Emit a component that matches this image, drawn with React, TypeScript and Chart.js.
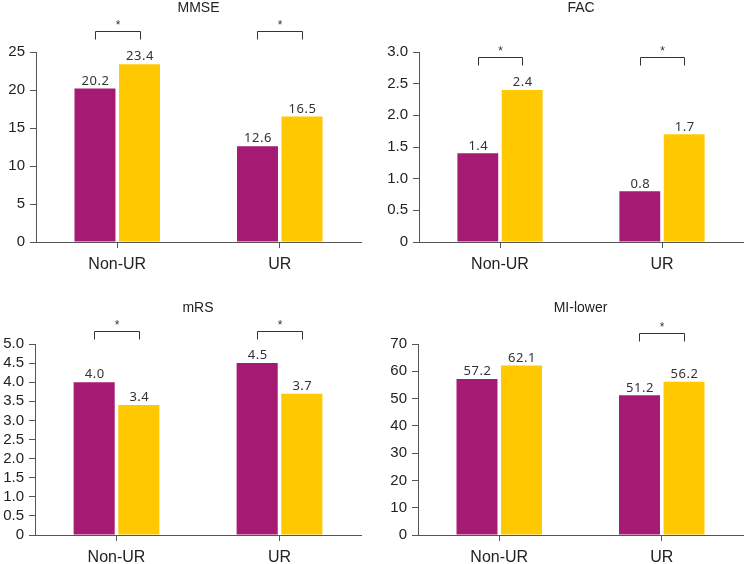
import React, { useEffect, useRef } from "react";
import { Chart, registerables } from "chart.js";

Chart.register(...registerables);

const categories = ["Non-UR", "UR"];

const titles = ["MMSE", "FAC", "mRS", "MI-lower"];

const groupA = [
  [20.2, 12.6],
  [1.4, 0.8],
  [4.0, 4.5],
  [57.2, 51.2],
];
const groupB = [
  [23.4, 16.5],
  [2.4, 1.7],
  [3.4, 3.7],
  [62.1, 56.2],
];

const yMax = [25, 3, 5, 70];
const yStep = [5, 0.5, 0.5, 10];
const yDecimals = [0, 1, 1, 0];

// significance brackets: which categories are marked, and bracket level (value units)
const sigFlags = [
  [true, true],
  [true, true],
  [true, true],
  [false, true],
];
const sigLevel = [27.8, 2.92, 5.34, 74.0];

const PURPLE = "#A51A72";
const YELLOW = "#FFC800";
const AXIS = "#555555";

// panel layout: canvas box and chart area target (in panel coords)
const panels = [
  { left: 0, top: 0, w: 372, h: 282, caL: 36, caR: 361, caT: 52, caB: 242, titleTop: 1 },
  { left: 372, top: 0, w: 373, h: 282, caL: 47, caR: 371, caT: 52, caB: 242, titleTop: 1 },
  { left: 0, top: 282, w: 372, h: 282, caL: 35, caR: 361, caT: 62, caB: 253, titleTop: 19 },
  { left: 372, top: 282, w: 373, h: 282, caL: 46, caR: 371, caT: 62, caB: 253, titleTop: 19 },
];

const annotPlugin = {
  id: "annot",
  afterDraw(chart: any, _args: any, opts: any) {
    const ctx = chart.ctx;
    const yScale = chart.scales.y;
    const metaA = chart.getDatasetMeta(0);
    const metaB = chart.getDatasetMeta(1);
    ctx.save();
    // value labels
    ctx.fillStyle = "#333333";
    ctx.font = "13px 'Noto Sans'";
    (ctx as any).letterSpacing = "0.5px";
    ctx.textAlign = "center";
    ctx.textBaseline = "bottom";
    [metaA, metaB].forEach((meta: any, di: number) => {
      const ds = chart.data.datasets[di].data;
      meta.data.forEach((bar: any, i: number) => {
        const v = ds[i] as number;
        ctx.fillText(v.toFixed(1), bar.x + 0.5, bar.y - 1);
      });
    });
    (ctx as any).letterSpacing = "0px";
    // brackets
    const flags: boolean[] = opts.flags;
    const yLev = yScale.getPixelForValue(opts.level);
    ctx.strokeStyle = "#333333";
    ctx.lineWidth = 1;
    ctx.font = "12px 'Liberation Sans'";
    ctx.textBaseline = "middle";
    flags.forEach((f, i) => {
      if (!f) return;
      const x1 = Math.round(metaA.data[i].x) + 0.5;
      const x2 = Math.round(metaB.data[i].x) + 0.5;
      const y = Math.round(yLev) + 0.5;
      ctx.beginPath();
      ctx.moveTo(x1, y + 8);
      ctx.lineTo(x1, y);
      ctx.lineTo(x2, y);
      ctx.lineTo(x2, y + 8);
      ctx.stroke();
      ctx.fillText("*", (x1 + x2) / 2, y - 6);
    });
    ctx.restore();
  },
};

function Panel({ idx }: { idx: number }) {
  const ref = useRef<HTMLCanvasElement | null>(null);
  const p = panels[idx];
  useEffect(() => {
    if (!ref.current) return;
    const decimals = yDecimals[idx];
    const chart = new Chart(ref.current, {
      type: "bar",
      data: {
        labels: categories,
        datasets: [
          {
            label: "A",
            data: groupA[idx],
            backgroundColor: PURPLE,
            categoryPercentage: 0.548,
            barPercentage: 0.92,
          },
          {
            label: "B",
            data: groupB[idx],
            backgroundColor: YELLOW,
            categoryPercentage: 0.548,
            barPercentage: 0.92,
          },
        ],
      },
      plugins: [annotPlugin],
      options: {
        responsive: false,
        animation: false,
        devicePixelRatio: 1,
        layout: { padding: { left: 0, right: p.w - p.caR, top: 0, bottom: 0 } },
        plugins: {
          legend: { display: false },
          tooltip: { enabled: false },
          title: {
            display: true,
            text: titles[idx],
            fullSize: false,
            color: "#222222",
            font: { family: "'Liberation Sans'", size: 14, weight: "normal", lineHeight: 1 },
            padding: { top: p.titleTop, bottom: p.caT - 14 - p.titleTop },
          },
          annot: { flags: sigFlags[idx], level: sigLevel[idx] },
        } as any,
        scales: {
          x: {
            grid: {
              display: true,
              drawOnChartArea: false,
              drawTicks: true,
              tickLength: 6,
              offset: false,
              color: AXIS,
            },
            border: { display: true, color: AXIS, width: 1 },
            ticks: {
              color: "#222222",
              font: { family: "'Liberation Sans'", size: 16 },
              padding: 7,
            },
            afterFit: (scale: any) => {
              scale.height = p.h - p.caB;
            },
          },
          y: {
            min: 0,
            max: yMax[idx],
            grid: {
              display: true,
              drawOnChartArea: false,
              drawTicks: true,
              tickLength: 6,
              color: AXIS,
            },
            border: { display: true, color: AXIS, width: 1 },
            ticks: {
              stepSize: yStep[idx],
              autoSkip: false,
              color: "#222222",
              font: { family: "'Liberation Sans'", size: 15 },
              padding: 5,
              callback: (v: any) => (Number(v) === 0 ? "0" : Number(v).toFixed(decimals)),
            },
            afterFit: (scale: any) => {
              scale.width = p.caL;
            },
          },
        },
      },
    });
    return () => chart.destroy();
  }, [idx]);
  return (
    <canvas
      ref={ref}
      width={p.w}
      height={p.h}
      style={{ position: "absolute", left: p.left, top: p.top, width: p.w, height: p.h }}
    />
  );
}

export default function App() {
  return (
    <div
      style={{
        position: "fixed",
        left: 0,
        top: 0,
        width: 745,
        height: 564,
        background: "#ffffff",
        overflow: "hidden",
      }}
    >
      {panels.map((_, i) => (
        <Panel key={i} idx={i} />
      ))}
    </div>
  );
}
